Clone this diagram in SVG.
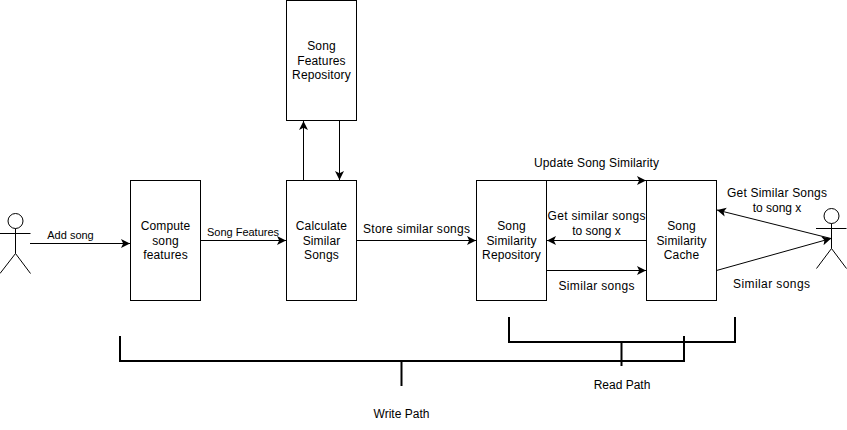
<svg xmlns="http://www.w3.org/2000/svg" width="847" height="430" viewBox="0 0 847 430">
<style>
.box{fill:#fff;stroke:#000;stroke-width:1}
.ln{fill:none;stroke:#000;stroke-width:1}
.lnx{fill:none;stroke:#000;stroke-width:1;marker-end:url(#arr)}
.br{fill:none;stroke:#000;stroke-width:2}
text{font-family:"Liberation Sans",Arial,sans-serif;font-size:12px;fill:#000;text-anchor:middle}
.s{font-size:11px}
.w{letter-spacing:.15px}
</style>
<defs>
<marker id="arr" markerUnits="userSpaceOnUse" markerWidth="10" markerHeight="10" refX="9" refY="4.5" orient="auto">
<path d="M0,0 L9,4.5 L0,9 L2.2,4.5 Z" fill="#000"/>
</marker>
</defs>
<rect width="847" height="430" fill="#fff"/>
<g id="connectors">
<path class="lnx" d="M30,243.500 H130"/>
<path class="lnx" d="M200.500,240.500 H286"/>
<path class="lnx" d="M303.500,180 V121"/>
<path class="lnx" d="M339.500,121 V180"/>
<path class="lnx" d="M356.500,240.500 H476"/>
<path class="lnx" d="M546.500,180.500 H646"/>
<path class="lnx" d="M646,240.500 H547"/>
<path class="lnx" d="M546.500,270.500 H646"/>
<path class="lnx" d="M831,238.500 L717,210"/>
<path class="lnx" d="M716.500,270.500 L831,238.500"/>
</g>
<g id="write-path">
<path class="br" d="M120,336 V361 H684 V336"/>
<path class="br" d="M401.500,361 V386"/>
<text x="401.500" y="418">Write Path</text>
</g>
<g id="read-path">
<path class="br" d="M509,317 V342 H735 V317"/>
<path class="br" d="M621.500,342 V366"/>
<text x="622" y="389">Read Path</text>
</g>
<g id="user-left">
<circle class="ln" cx="15.500" cy="221" r="7.500"/>
<path class="ln" d="M15.500,228.500 V253.500 M0,233.500 H30.500 M15.500,253.500 L0,273.500 M15.500,253.500 L30.500,273.500"/>
</g>
<g id="user-right">
<circle class="ln" cx="831.500" cy="216" r="7.500"/>
<path class="ln" d="M831.500,223.500 V248.500 M816,228.500 H846.500 M831.500,248.500 L816.500,268.500 M831.500,248.500 L846.500,268.500"/>
</g>
<g id="compute">
<rect class="box" x="130.500" y="180.500" width="70" height="120"/>
<text class="w" x="165.500" y="230">Compute</text><text class="w" x="165.500" y="245">song</text><text class="w" x="165.500" y="259">features</text>
</g>
<g id="calculate">
<rect class="box" x="286.500" y="180.500" width="70" height="120"/>
<text class="w" x="321.500" y="230">Calculate</text><text class="w" x="321.500" y="245">Similar</text><text class="w" x="321.500" y="259">Songs</text>
</g>
<g id="features-repo">
<rect class="box" x="286.500" y="0.500" width="70" height="120"/>
<text class="w" x="321.500" y="50">Song</text><text class="w" x="321.500" y="65">Features</text><text class="w" x="321.500" y="79">Repository</text>
</g>
<g id="similarity-repo">
<rect class="box" x="476.500" y="180.500" width="70" height="120"/>
<text class="w" x="511.500" y="230">Song</text><text class="w" x="511.500" y="245">Similarity</text><text class="w" x="511.500" y="259">Repository</text>
</g>
<g id="similarity-cache">
<rect class="box" x="646.500" y="180.500" width="70" height="120"/>
<text class="w" x="681.500" y="230">Song</text><text class="w" x="681.500" y="245">Similarity</text><text class="w" x="681.500" y="259">Cache</text>
</g>
<g id="labels">
<text class="s" x="70.500" y="239">Add song</text>
<text class="s" x="243" y="236">Song Features</text>
<text x="416.500" y="233" textLength="107">Store similar songs</text>
<text x="596.500" y="167" textLength="125">Update Song Similarity</text>
<text x="596.500" y="220" textLength="98">Get similar songs</text>
<text x="596.500" y="235">to song x</text>
<text x="596.500" y="290" textLength="76">Similar songs</text>
<text x="777" y="197" textLength="100">Get Similar Songs</text>
<text x="777" y="212">to song x</text>
<text x="771.500" y="288" textLength="77">Similar songs</text>
</g>
</svg>
